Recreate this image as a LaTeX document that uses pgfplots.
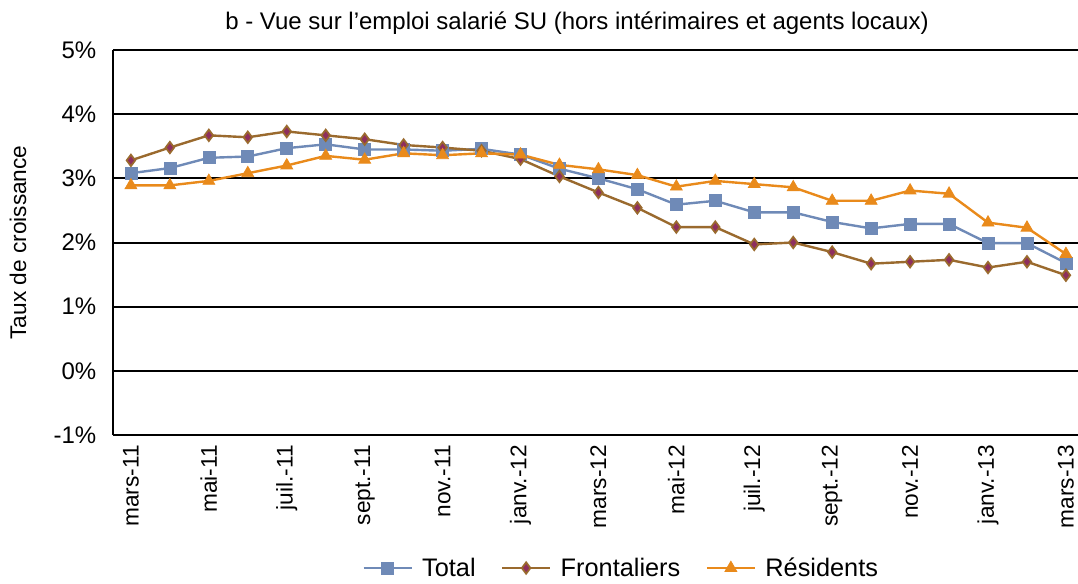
\documentclass[border=0pt]{standalone}
\usepackage{pgfplots}
\pgfplotsset{compat=1.18}
\usepackage{pgfplotstable}
\usepackage{fontspec}
\setmainfont{Liberation Sans}
\definecolor{cT}{HTML}{6F8AB7}
\definecolor{cF}{HTML}{9A6A2E}
\definecolor{cFi}{HTML}{8E2F5E}
\definecolor{cR}{HTML}{E98A1B}

\pgfplotstableread{
i T F R
0 3.08 3.28 2.89
1 3.16 3.48 2.89
2 3.32 3.67 2.96
3 3.34 3.64 3.08
4 3.47 3.73 3.20
5 3.53 3.67 3.35
6 3.45 3.61 3.29
7 3.45 3.52 3.39
8 3.43 3.48 3.36
9 3.46 3.43 3.39
10 3.37 3.30 3.37
11 3.15 3.03 3.21
12 3.00 2.78 3.14
13 2.83 2.54 3.05
14 2.59 2.24 2.87
15 2.65 2.24 2.96
16 2.47 1.97 2.91
17 2.47 2.00 2.86
18 2.32 1.85 2.65
19 2.22 1.67 2.65
20 2.29 1.70 2.81
21 2.29 1.73 2.76
22 1.99 1.61 2.31
23 1.99 1.70 2.23
24 1.68 1.49 1.82
}\data

\begin{document}
\begin{tikzpicture}
\path[use as bounding box] (-84.75pt,-111pt) rectangle (723.75pt,326.25pt);
\begin{axis}[name=ax, at={(0,0)}, anchor=south west,
 scale only axis, width=723.75pt, height=288.75pt,
 xmin=-0.46, xmax=24.31, ymin=-1, ymax=5,
 axis x line*=bottom, axis y line*=left,
 axis line style={line width=1.5pt,-},
 ymajorgrids, grid style={black,line width=1.5pt},
 ytick={-1,0,1,2,3,4,5}, yticklabels={-1\%,0\%,1\%,2\%,3\%,4\%,5\%},
 xtick={0,2,...,24},
 xticklabels={mars-11,mai-11,juil.-11,sept.-11,nov.-11,janv.-12,mars-12,mai-12,juil.-12,sept.-12,nov.-12,janv.-13,mars-13},
 major tick length=0pt,
 xticklabel style={font=\fontsize{17}{19}\selectfont, rotate=90, anchor=east, xshift=-4pt},
 yticklabel style={font=\fontsize{18}{20}\selectfont, xshift=-9pt},
 clip=false,
 legend columns=3,
 legend style={draw=none, fill=none, at={(0.527,-0.3455)}, anchor=center,
   font=\fontsize{19}{21}\selectfont,
   /tikz/every odd column/.append style={column sep=5pt},
   /tikz/every even column/.append style={column sep=17pt}},
 legend image code/.code={\draw[mark repeat=2,mark phase=2] plot coordinates {(0pt,0pt)(18pt,0pt)(36pt,0pt)};},
]
\addplot[cT, line width=1.8pt, mark=square*, mark size=4.5pt, mark options={fill=cT, draw=cT, line width=0.5pt}] table[x=i,y=T]{\data};
\addlegendentry{Total}
\addplot[cF, line width=1.8pt, mark=diamond*, mark size=4.3pt, mark options={fill=cFi, draw=cF, line width=1.3pt}] table[x=i,y=F]{\data};
\addlegendentry{Frontaliers}
\addplot[cR, line width=1.8pt, mark=triangle*, mark size=5.2pt, mark options={fill=cR, draw=cR, line width=0.5pt}] table[x=i,y=R]{\data};
\addlegendentry{Résidents}
\end{axis}
\node[rotate=90, font=\fontsize{17}{19}\selectfont] at (-71.25pt,144.4pt) {Taux de croissance};
\node[font=\fontsize{18}{20}\selectfont] at (348pt,309pt) {b - Vue sur l'emploi salarié SU (hors intérimaires et agents locaux)};
\end{tikzpicture}
\end{document}
